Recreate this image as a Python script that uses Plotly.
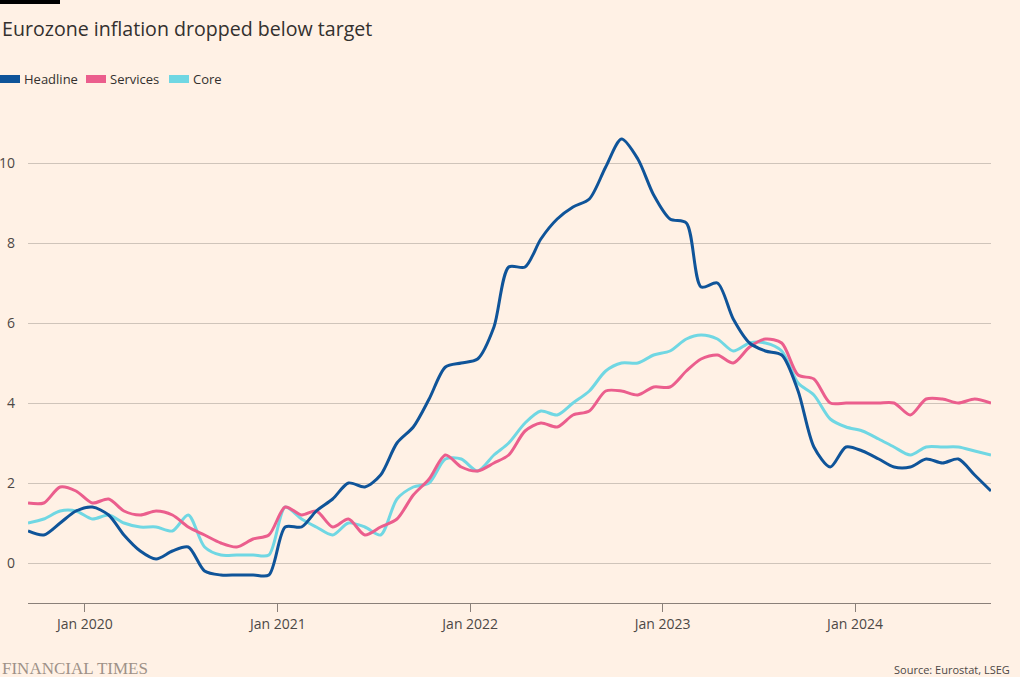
import plotly.graph_objects as go
import pandas as pd

dates = pd.date_range("2019-09-01", "2024-09-01", freq="MS") + pd.Timedelta(days=14)

headline = [0.8, 0.7, 1.0, 1.3,
            1.4, 1.2, 0.7, 0.3, 0.1, 0.3, 0.4, -0.2, -0.3, -0.3, -0.3, -0.3,
            0.9, 0.9, 1.3, 1.6, 2.0, 1.9, 2.2, 3.0, 3.4, 4.1, 4.9, 5.0,
            5.1, 5.9, 7.4, 7.4, 8.1, 8.6, 8.9, 9.1, 9.9, 10.6, 10.1, 9.2,
            8.6, 8.5, 6.9, 7.0, 6.1, 5.5, 5.3, 5.2, 4.3, 2.9, 2.4, 2.9,
            2.8, 2.6, 2.4, 2.4, 2.6, 2.5, 2.6, 2.2, 1.8]
services = [1.5, 1.5, 1.9, 1.8,
            1.5, 1.6, 1.3, 1.2, 1.3, 1.2, 0.9, 0.7, 0.5, 0.4, 0.6, 0.7,
            1.4, 1.2, 1.3, 0.9, 1.1, 0.7, 0.9, 1.1, 1.7, 2.1, 2.7, 2.4,
            2.3, 2.5, 2.7, 3.3, 3.5, 3.4, 3.7, 3.8, 4.3, 4.3, 4.2, 4.4,
            4.4, 4.8, 5.1, 5.2, 5.0, 5.4, 5.6, 5.5, 4.7, 4.6, 4.0, 4.0,
            4.0, 4.0, 4.0, 3.7, 4.1, 4.1, 4.0, 4.1, 4.0]
core = [1.0, 1.1, 1.3, 1.3,
        1.1, 1.2, 1.0, 0.9, 0.9, 0.8, 1.2, 0.4, 0.2, 0.2, 0.2, 0.2,
        1.4, 1.1, 0.9, 0.7, 1.0, 0.9, 0.7, 1.6, 1.9, 2.0, 2.6, 2.6,
        2.3, 2.7, 3.0, 3.5, 3.8, 3.7, 4.0, 4.3, 4.8, 5.0, 5.0, 5.2,
        5.3, 5.6, 5.7, 5.6, 5.3, 5.5, 5.5, 5.3, 4.5, 4.2, 3.6, 3.4,
        3.3, 3.1, 2.9, 2.7, 2.9, 2.9, 2.9, 2.8, 2.7]

series_names = ["Headline", "Services", "Core"]
colors = ["#0f5499", "#eb5e8d", "#70d7e3"]
x_ticks = ["2020-01-01", "2021-01-01", "2022-01-01", "2023-01-01", "2024-01-01"]
x_tick_labels = ["Jan 2020", "Jan 2021", "Jan 2022", "Jan 2023", "Jan 2024"]
y_ticks = [0, 2, 4, 6, 8, 10]

fig = go.Figure()
for name, vals, col in [("Core", core, colors[2]), ("Services", services, colors[1]), ("Headline", headline, colors[0])]:
    fig.add_trace(go.Scatter(x=dates, y=vals, mode="lines", name=name,
                             line=dict(color=col, width=3, shape="spline", smoothing=0.8),
                             showlegend=False))

FONT = "Open Sans"
fig.update_layout(
    width=1020, height=677,
    paper_bgcolor="#fff1e5", plot_bgcolor="#fff1e5",
    margin=dict(l=28, r=29, t=115, b=74, autoexpand=False),
    font=dict(family=FONT, color="#66605c", size=13),
    xaxis=dict(range=["2019-09-15", "2024-09-15"], tickvals=x_ticks, ticktext=x_tick_labels,
               showgrid=False, showline=True, linecolor="#8a8079", linewidth=1,
               ticks="outside", ticklen=8, tickcolor="#8a8079", automargin=False,
               tickfont=dict(size=14, color="#4d4845"), zeroline=False),
    yaxis=dict(range=[-1, 11.2], tickvals=y_ticks, showgrid=True, gridcolor="#cfc4ba",
               gridwidth=1, zeroline=False, showline=False, ticks="", automargin=False,
               ticklabelstandoff=12,
               tickfont=dict(size=14, color="#4d4845")),
)

# top black bar
fig.add_shape(type="rect", xref="paper", yref="paper", x0=-28/963, x1=32/963,
              y0=1 + 111/488, y1=1 + 115/488, fillcolor="#000000", line_width=0)

# title
fig.add_annotation(text="Eurozone inflation dropped below target", xref="paper", yref="paper",
                   x=-28/963, y=1 + (115 - 29)/488, xanchor="left", yanchor="middle",
                   showarrow=False, font=dict(family=FONT, size=19.6, color="#33302e"))

# legend (custom swatches)
leg_x = [0, 86, 169]
for i, (name, col) in enumerate(zip(series_names, colors)):
    x0 = leg_x[i]
    fig.add_shape(type="rect", xref="paper", yref="paper",
                  x0=(x0 - 28)/963, x1=(x0 + 20 - 28)/963,
                  y0=1 + (115 - 83)/488, y1=1 + (115 - 75)/488,
                  fillcolor=col, line_width=0)
    fig.add_annotation(text=name, xref="paper", yref="paper",
                       x=(x0 + 22 - 28)/963, y=1 + (115 - 79)/488,
                       xanchor="left", yanchor="middle", showarrow=False,
                       font=dict(family=FONT, size=13, color="#33302e"))

# footer
fig.add_annotation(text="FINANCIAL TIMES", xref="paper", yref="paper",
                   x=-28/963, y=-(668 - 603)/488, xanchor="left", yanchor="middle",
                   showarrow=False, font=dict(family="Liberation Serif", size=17, color="#9e9188"))
fig.add_annotation(text="Source: Eurostat, LSEG", xref="paper", yref="paper",
                   x=(1012 - 28)/963, y=-(669 - 603)/488, xanchor="right", yanchor="middle",
                   showarrow=False, font=dict(family=FONT, size=11, color="#4d4845"))

fig.write_html("out.html", config={"displayModeBar": False},
               post_script="document.documentElement.style.margin='0';document.body.style.margin='0';"
                           "document.body.style.padding='0';document.documentElement.style.overflow='hidden';"
                           "document.body.style.overflow='hidden';")
